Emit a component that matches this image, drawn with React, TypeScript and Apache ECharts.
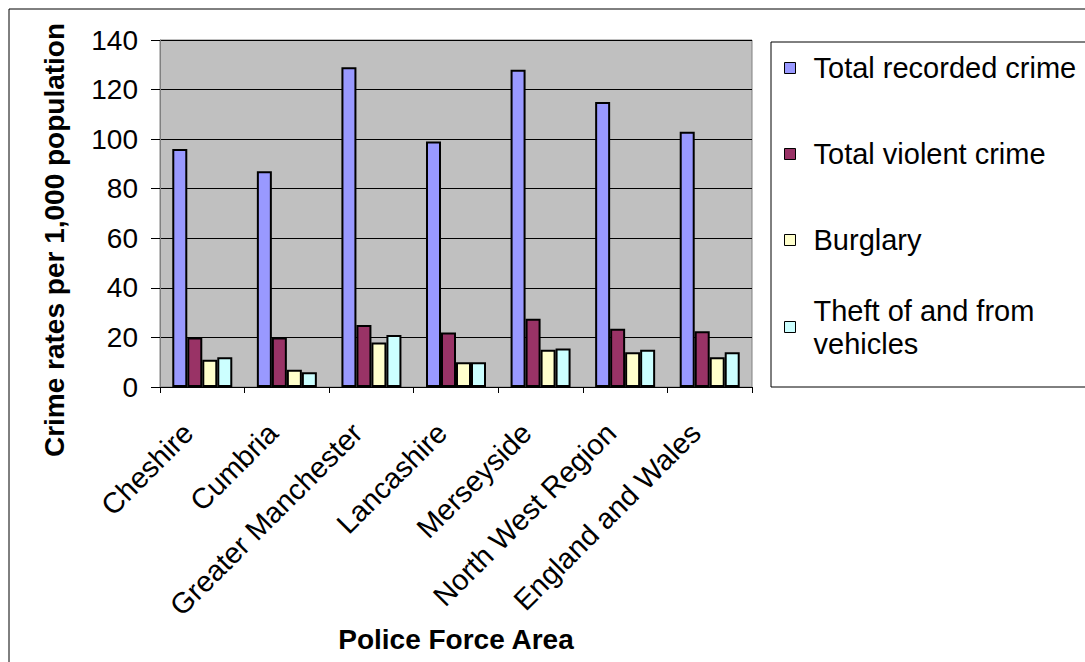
import React, { useEffect, useRef } from "react";
import * as echarts from "echarts";

const categories = [
  "Cheshire",
  "Cumbria",
  "Greater Manchester",
  "Lancashire",
  "Merseyside",
  "North West Region",
  "England and Wales",
];
const totalRecorded = [96, 87, 129, 99, 128, 115, 103];
const totalViolent = [20, 20, 25, 22, 27.5, 23.5, 22.5];
const burglary = [11, 7, 18, 10, 15, 14, 12];
const theftVehicles = [12, 6, 21, 10, 15.5, 15, 14];
const seriesNames = [
  "Total recorded crime",
  "Total violent crime",
  "Burglary",
  "Theft of and from vehicles",
];
const seriesColors = ["#9999FF", "#993366", "#FFFFCC", "#CCFFFF"];
const yTicks = { min: 0, max: 140, interval: 20 };

const FONT = "'Liberation Sans', Arial, sans-serif";

export default function App() {
  const ref = useRef<HTMLDivElement>(null);
  useEffect(() => {
    document.body.style.margin = "0";
    if (!ref.current) return;
    const chart = echarts.init(ref.current, undefined, { renderer: "svg" });
    const values = [totalRecorded, totalViolent, burglary, theftVehicles];
    const legendText = {
      fontFamily: FONT,
      fontSize: 29,
      color: "#000",
      lineHeight: 33,
      padding: [0, 0, 0, 13],
    };
    chart.setOption({
      animation: false,
      backgroundColor: "#fff",
      textStyle: { fontFamily: FONT },
      grid: {
        left: 160,
        top: 40,
        right: 333,
        bottom: 275,
        show: true,
        backgroundColor: "#C0C0C0",
        borderColor: "#808080",
        borderWidth: 1,
      },
      legend: [
        {
          orient: "vertical",
          left: 784,
          top: 51.5,
          padding: 0,
          itemWidth: 11,
          itemHeight: 11,
          itemGap: 53,
          icon: "rect",
          data: seriesNames.slice(0, 3),
          textStyle: legendText,
          itemStyle: { borderColor: "#000", borderWidth: 1 },
          selectedMode: false,
        },
        {
          orient: "vertical",
          left: 784,
          top: 277.5,
          padding: 0,
          itemWidth: 11,
          itemHeight: 11,
          icon: "rect",
          data: [seriesNames[3]],
          formatter: () => "Theft of and from\nvehicles",
          textStyle: { ...legendText, padding: [33, 0, 0, 13] },
          itemStyle: { borderColor: "#000", borderWidth: 1 },
          selectedMode: false,
        },
      ],
      xAxis: {
        type: "category",
        data: categories,
        axisLine: { show: true, lineStyle: { color: "#000", width: 1 } },
        axisTick: {
          show: true,
          alignWithLabel: false,
          length: 6,
          lineStyle: { color: "#000" },
        },
        axisLabel: {
          rotate: 45,
          interval: 0,
          margin: 27,
          padding: [0, 20, 0, 0],
          fontFamily: FONT,
          fontSize: 29,
          color: "#000",
        },
        splitLine: { show: false },
      },
      yAxis: {
        type: "value",
        min: yTicks.min,
        max: yTicks.max,
        interval: yTicks.interval,
        axisLine: { show: true, lineStyle: { color: "#808080", width: 1 } },
        axisTick: { show: true, length: 9, lineStyle: { color: "#000" } },
        axisLabel: {
          margin: 22,
          fontFamily: FONT,
          fontSize: 28,
          color: "#000",
        },
        splitLine: { show: true, lineStyle: { color: "#000", width: 1 } },
      },
      series: seriesNames.map((name, i) => ({
        name,
        type: "bar",
        data: values[i],
        barWidth: 15,
        barGap: "0%",
        itemStyle: {
          color: seriesColors[i],
          borderColor: "#000",
          borderWidth: 2,
        },
      })),
      graphic: [
        {
          type: "rect",
          shape: { x: 9, y: 9, width: 1200, height: 1000 },
          style: { fill: "none", stroke: "#000", lineWidth: 1 },
          silent: true,
          z: -10,
        },
        {
          type: "rect",
          shape: { x: 771, y: 42, width: 400, height: 345 },
          style: { fill: "none", stroke: "#000", lineWidth: 1 },
          silent: true,
        },
        {
          type: "text",
          x: 54,
          y: 240,
          rotation: Math.PI / 2,
          style: {
            text: "Crime rates per 1,000 population",
            fontFamily: FONT,
            fontSize: 28,
            fontWeight: "bold",
            fill: "#000",
            align: "center",
            verticalAlign: "middle",
          },
        },
        {
          type: "text",
          x: 456,
          y: 639,
          style: {
            text: "Police Force Area",
            fontFamily: FONT,
            fontSize: 28,
            fontWeight: "bold",
            fill: "#000",
            align: "center",
            verticalAlign: "middle",
          },
        },
      ],
    });
    return () => chart.dispose();
  }, []);
  return <div ref={ref} style={{ width: 1085, height: 662 }} />;
}
